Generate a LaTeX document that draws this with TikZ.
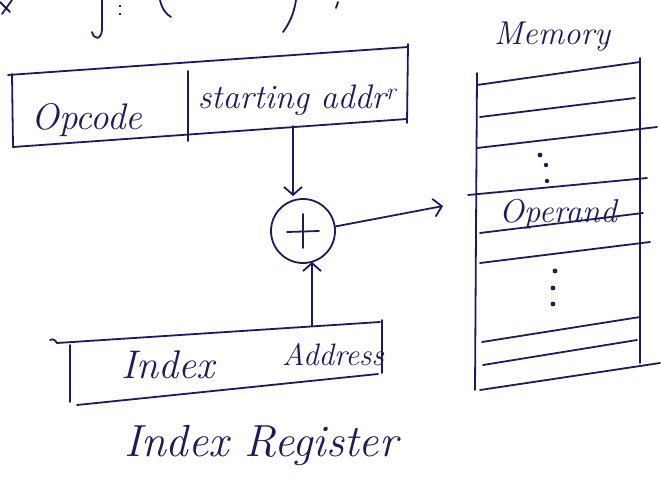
\documentclass[tikz,border=0pt]{standalone}
\usetikzlibrary{arrows.meta}
\definecolor{ink}{HTML}{1C1C5C}
\begin{document}
\begin{tikzpicture}[x=1pt,y=-1pt, line width=1.8pt, line cap=round, line join=round,
  pen/.style={draw=ink},
  hand/.style={font=\itshape\fontsize{#1}{#1}\selectfont, inner sep=0pt, text=ink},
  tip/.style={pen,-{Straight Barb[length=8pt,width=18pt,line width=1.8pt]}},
  blob/.style={fill=ink, draw=none}]
\useasboundingbox[fill=white] (0,0) rectangle (661,479);

% heading line, cut off at the top edge
\draw[pen] (0,2) -- (10,12) (12,0) -- (2,14);
\draw[pen] (102,0) -- (102,30) .. controls (101,40) and (94,40) .. (92,32);
\draw[pen] (120,6) circle (0.3pt) (120,14) circle (0.3pt);
\draw[pen] (160,0) .. controls (162,9) and (166,14) .. (171,17);
\draw[pen] (296,0) .. controls (294,14) and (289,24) .. (283,32);
\draw[pen] (338,2) -- (336,8);

% instruction word
\coordinate (iTL) at (12,74);
\coordinate (iTR) at (408,47);
\coordinate (iBR) at (407,119);
\coordinate (iBL) at (13,147);
\draw[pen] (8,75) -- (iTR);
\draw[pen] (408,44) -- (407,123);
\draw[pen] (iTL) -- (iBL) -- (iBR);
\draw[pen] (188,71) -- (188,141);
\node[hand=37] (opc) at (87,120) {Opcode};
\node[hand=34] (sta) at (297,100) {starting addr\textsuperscript{r}};

% adder
\node[pen, circle, minimum size=64pt, inner sep=0pt] (add) at (303,231) {};
\draw[pen] (add.center) ++(0,-17) -- ++(0,34);
\draw[pen] (add.center) ++(-16,1) -- ++(32,-1);

% index register
\draw[pen] (50,340) .. controls (53,338) and (56,341) .. (57,343) -- (380,322);
\draw[pen] (70,345) -- (70,402);
\draw[pen] (77,405) -- (378,374);
\draw[pen] (382,320) -- (382,373);
\node[hand=40] (idx) at (168,365) {Index};
\node[hand=31] (adr) at (333,355) {Address};
\node[hand=45] (lbl) at (261,445) {Index Register};

% memory
\node[hand=33] (memlbl) at (552,37) {Memory};
\draw[pen] (477,73) -- (475,390);
\draw[pen] (640,58) -- (640,363);
\draw[pen] (477,85) -- (640,62);
\draw[pen] (480,117) -- (635,98);
\draw[pen] (477,148) -- (657,127);
\draw[pen] (468,195) -- (647,178);
\draw[pen] (480,233) -- (643,213);
\draw[pen] (480,263) -- (650,242);
\draw[pen] (482,342) -- (640,317);
\draw[pen] (483,365) -- (637,340);
\draw[pen] (480,390) -- (660,363);
\node[hand=33] (opnd) at (558,214) {Operand};
\fill[blob] (540,155) circle (2.4pt) (546,165) circle (2.2pt) (547,181) circle (2.2pt);
\fill[blob] (555,271) circle (2.4pt) (553,288) circle (2.4pt) (553,304) circle (2.4pt);
\coordinate (mop) at (443,206);

% connectors
\coordinate (sfoot) at (293,126);
\coordinate (xtop) at (312,326);
\draw[tip, shorten >=2pt] (sfoot) -- (sfoot |- add.north);
\draw[tip] (add.8) -- (mop);
\draw[tip, shorten >=-2pt] (xtop) -- (xtop |- add.south);
\end{tikzpicture}
\end{document}
